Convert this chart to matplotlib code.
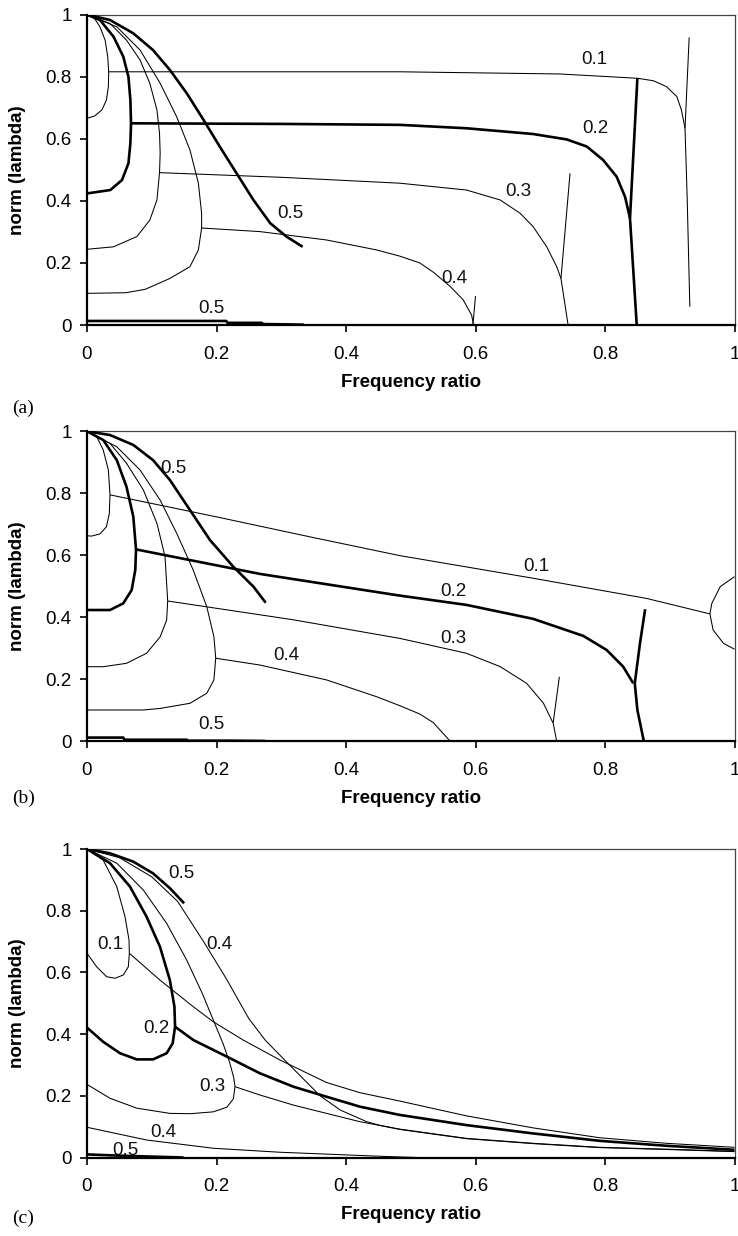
import matplotlib
matplotlib.use("Agg")
import matplotlib.pyplot as plt

plt.rcParams['font.family'] = ['Liberation Sans', 'DejaVu Sans']

# ---------------- data (x = frequency ratio, y = norm) ----------------
# panel (a)
a_01_loop = [(0, 1), (0.010, 0.993), (0.020, 0.961), (0.028, 0.918), (0.032, 0.865), (0.0335, 0.816),
             (0.033, 0.768), (0.030, 0.725), (0.023, 0.693), (0.012, 0.674), (0, 0.666)]
a_01_branch = [(0.0335, 0.816), (0.483, 0.816), (0.73, 0.809), (0.851, 0.795), (0.875, 0.787),
               (0.895, 0.768), (0.911, 0.736), (0.918, 0.693), (0.9236, 0.634)]
a_01_vert = [(0.930, 0.927), (0.9236, 0.634), (0.927, 0.403), (0.931, 0.059)]
a_02_loop = [(0, 1), (0.020, 0.983), (0.041, 0.929), (0.056, 0.865), (0.064, 0.800), (0.067, 0.725),
             (0.068, 0.650), (0.067, 0.586), (0.064, 0.521), (0.054, 0.467), (0.036, 0.435), (0, 0.424)]
a_02_branch = [(0.068, 0.650), (0.3, 0.648), (0.483, 0.645), (0.586, 0.634), (0.689, 0.6155), (0.741, 0.598),
               (0.772, 0.575), (0.797, 0.532), (0.818, 0.478), (0.831, 0.413), (0.8386, 0.344)]
a_02_vert = [(0.850, 0.795), (0.8386, 0.344), (0.849, 0.0)]
a_03_loop = [(0, 1), (0.0355, 0.972), (0.061, 0.918), (0.082, 0.854), (0.097, 0.779), (0.108, 0.693),
             (0.112, 0.618), (0.113, 0.553), (0.112, 0.491), (0.108, 0.403), (0.097, 0.338), (0.077, 0.285),
             (0.041, 0.252), (0, 0.244)]
a_03_branch = [(0.112, 0.491), (0.3, 0.476), (0.483, 0.457), (0.586, 0.435), (0.638, 0.403), (0.669, 0.360),
               (0.689, 0.317), (0.710, 0.252), (0.7254, 0.188), (0.732, 0.150)]
a_03_vert = [(0.746, 0.489), (0.732, 0.150), (0.743, 0.0)]
a_04_loop = [(0, 1), (0.046, 0.961), (0.082, 0.886), (0.113, 0.779), (0.1385, 0.671), (0.159, 0.564),
             (0.172, 0.457), (0.177, 0.360), (0.177, 0.3126), (0.172, 0.242), (0.159, 0.188), (0.128, 0.150),
             (0.09, 0.115), (0.06, 0.104), (0, 0.102)]
a_04_branch = [(0.177, 0.3126), (0.267, 0.301), (0.370, 0.274), (0.447, 0.242), (0.483, 0.222), (0.514, 0.200),
               (0.535, 0.170), (0.561, 0.124), (0.581, 0.081), (0.594, 0.032), (0.597, 0.0)]
a_04_tick = [(0.600, 0.093), (0.596, 0.0)]
a_05_curve = [(0, 1), (0.0355, 0.983), (0.0715, 0.940), (0.102, 0.886), (0.128, 0.822), (0.154, 0.747),
              (0.180, 0.661), (0.205, 0.575), (0.231, 0.489), (0.257, 0.403), (0.283, 0.328), (0.308, 0.285),
              (0.333, 0.252)]
a_05_floor = [(0, 0.013), (0.215, 0.013), (0.217, 0.007), (0.27, 0.007), (0.272, 0.003), (0.31, 0.002),
              (0.335, 0.001)]
a_labels = [("0.1", 0.783, 0.856), ("0.2", 0.785, 0.634), ("0.3", 0.666, 0.430), ("0.4", 0.568, 0.150),
            ("0.5", 0.3135, 0.360), ("0.5", 0.1925, 0.054)]

# panel (b)
b_01_loop = [(0, 1), (0.015, 0.983), (0.025, 0.940), (0.033, 0.875), (0.0355, 0.795), (0.0345, 0.735),
             (0.030, 0.692), (0.020, 0.669), (0.007, 0.662), (0, 0.663)]
b_01_branch = [(0.0355, 0.795), (0.2, 0.724), (0.35, 0.657), (0.483, 0.599), (0.689, 0.526), (0.864, 0.461),
               (0.962, 0.411)]
b_01_ellipse = [(1.0, 0.531), (0.978, 0.499), (0.965, 0.445), (0.962, 0.411), (0.967, 0.359), (0.983, 0.316),
                (1.0, 0.297)]
b_02_loop = [(0, 1), (0.025, 0.972), (0.046, 0.907), (0.061, 0.821), (0.0715, 0.725), (0.0757, 0.619),
             (0.0746, 0.553), (0.069, 0.488), (0.056, 0.445), (0.0355, 0.4235), (0, 0.4235)]
b_02_branch = [(0.0757, 0.619), (0.267, 0.540), (0.483, 0.470), (0.586, 0.440), (0.689, 0.395), (0.7665, 0.340),
               (0.8026, 0.2945), (0.828, 0.241), (0.8437, 0.187)]
b_02_vert = [(0.862, 0.426), (0.854, 0.316), (0.846, 0.187), (0.850, 0.101), (0.860, 0.0)]
b_03_loop = [(0, 1), (0.0355, 0.961), (0.061, 0.897), (0.087, 0.811), (0.108, 0.703), (0.1205, 0.596),
             (0.1246, 0.4526), (0.123, 0.391), (0.113, 0.337), (0.092, 0.284), (0.061, 0.2516), (0.025, 0.2406),
             (0, 0.2406)]
b_03_branch = [(0.1246, 0.4526), (0.3186, 0.392), (0.483, 0.332), (0.586, 0.284), (0.638, 0.241), (0.679, 0.187),
               (0.705, 0.1226), (0.720, 0.058), (0.7254, 0.0)]
b_03_vert = [(0.7295, 0.208), (0.720, 0.06)]
b_04_loop = [(0, 1), (0.046, 0.950), (0.082, 0.875), (0.113, 0.778), (0.1385, 0.671), (0.164, 0.5526),
             (0.185, 0.434), (0.196, 0.337), (0.1988, 0.268), (0.196, 0.198), (0.185, 0.155), (0.159, 0.1226),
             (0.113, 0.106), (0.087, 0.101), (0, 0.101)]
b_04_branch = [(0.1988, 0.268), (0.267, 0.246), (0.370, 0.198), (0.447, 0.144), (0.483, 0.115), (0.514, 0.088),
               (0.535, 0.06), (0.561, 0.0)]
b_05_curve = [(0, 1), (0.0355, 0.988), (0.0715, 0.956), (0.102, 0.907), (0.128, 0.843), (0.159, 0.746),
              (0.190, 0.649), (0.226, 0.563), (0.257, 0.499), (0.276, 0.447)]
b_05_floor = [(0, 0.012), (0.056, 0.012), (0.058, 0.005), (0.154, 0.005), (0.156, 0.002), (0.2235, 0.002),
              (0.275, 0.001)]
b_labels = [("0.5", 0.134, 0.8806), ("0.4", 0.308, 0.278), ("0.5", 0.1925, 0.0526), ("0.1", 0.6945, 0.563),
            ("0.2", 0.566, 0.483), ("0.3", 0.566, 0.332)]

# panel (c)
c_01_loop = [(0, 1), (0.025, 0.964), (0.046, 0.878), (0.0587, 0.7806), (0.0649, 0.705), (0.0654, 0.662),
             (0.0638, 0.618), (0.056, 0.5916), (0.0433, 0.581), (0.0304, 0.586), (0.015, 0.618), (0, 0.662)]
c_01_branch = [(0.0654, 0.662), (0.1127, 0.575), (0.164, 0.489), (0.195, 0.440), (0.241, 0.381), (0.298, 0.316),
               (0.370, 0.243), (0.4216, 0.210), (0.483, 0.183), (0.586, 0.135), (0.689, 0.096), (0.792, 0.064),
               (0.895, 0.046), (1.0, 0.033)]
c_02_loop = [(0, 1), (0.0355, 0.954), (0.0664, 0.878), (0.092, 0.7806), (0.1127, 0.683), (0.128, 0.575),
             (0.135, 0.489), (0.136, 0.424), (0.1323, 0.370), (0.123, 0.338), (0.102, 0.318), (0.0767, 0.318),
             (0.051, 0.338), (0.025, 0.375), (0, 0.421)]
c_02_branch = [(0.136, 0.424), (0.164, 0.381), (0.216, 0.327), (0.267, 0.273), (0.3186, 0.2296), (0.370, 0.197),
               (0.4216, 0.1647), (0.483, 0.138), (0.586, 0.105), (0.689, 0.078), (0.792, 0.054), (0.895, 0.038),
               (1.0, 0.025)]
c_03_loop = [(0, 1), (0.046, 0.954), (0.087, 0.867), (0.123, 0.759), (0.154, 0.640), (0.178, 0.532),
             (0.195, 0.4457), (0.210, 0.370), (0.220, 0.310), (0.2265, 0.260), (0.2286, 0.2296), (0.226, 0.190),
             (0.216, 0.163), (0.195, 0.148), (0.160, 0.142), (0.128, 0.143), (0.0767, 0.160), (0.0355, 0.192),
             (0, 0.237)]
c_03_branch = [(0.2286, 0.2296), (0.267, 0.2026), (0.3186, 0.170), (0.370, 0.143), (0.4216, 0.116),
               (0.483, 0.092), (0.586, 0.062), (0.689, 0.046), (0.792, 0.033), (0.895, 0.027), (1.0, 0.020)]
c_04_top = [(0, 1), (0.05, 0.972), (0.10, 0.91), (0.14, 0.83), (0.18, 0.70), (0.215, 0.58), (0.250, 0.45),
            (0.275, 0.381), (0.308, 0.310), (0.360, 0.200), (0.391, 0.154), (0.432, 0.116), (0.4525, 0.104),
            (0.483, 0.091), (0.586, 0.061), (0.689, 0.045), (0.792, 0.032), (0.895, 0.026), (1.0, 0.019)]
c_04_bottom = [(0, 0.098), (0.092, 0.0567), (0.195, 0.030), (0.298, 0.017), (0.4525, 0.004), (0.51, 0.0)]
c_05_curve = [(0, 1), (0.0355, 0.986), (0.0715, 0.959), (0.102, 0.921), (0.128, 0.873), (0.150, 0.824)]
c_05_floor = [(0, 0.010), (0.05, 0.006), (0.149, 0.0)]
c_labels = [("0.5", 0.146, 0.921), ("0.1", 0.0366, 0.689), ("0.4", 0.204, 0.689), ("0.2", 0.1066, 0.419),
            ("0.3", 0.194, 0.2296), ("0.4", 0.118, 0.080), ("0.5", 0.0587, 0.022)]

ticks = [0, 0.2, 0.4, 0.6, 0.8, 1]
tick_text = ['0', '0.2', '0.4', '0.6', '0.8', '1']

THIN = 0.75
THICK = 1.9

panels = [
    ("(a)", [14.7, 325.0], 408,
     [(a_01_loop, THIN), (a_01_branch, THIN), (a_01_vert, THIN), (a_02_loop, THICK), (a_02_branch, THICK),
      (a_02_vert, THICK), (a_03_loop, THIN), (a_03_branch, THIN), (a_03_vert, THIN), (a_04_loop, THIN),
      (a_04_branch, THIN), (a_04_tick, THIN), (a_05_curve, THICK), (a_05_floor, THICK)], a_labels),
    ("(b)", [431.3, 741.3], 798,
     [(b_01_loop, THIN), (b_01_branch, THIN), (b_01_ellipse, THIN), (b_02_loop, THICK), (b_02_branch, THICK),
      (b_02_vert, THICK), (b_03_loop, THIN), (b_03_branch, THIN), (b_03_vert, THIN), (b_04_loop, THIN),
      (b_04_branch, THIN), (b_05_curve, THICK), (b_05_floor, THICK)], b_labels),
    ("(c)", [849.0, 1157.5], 1218,
     [(c_01_loop, THIN), (c_01_branch, THIN), (c_02_loop, THICK), (c_02_branch, THICK), (c_03_loop, THIN),
      (c_03_branch, THIN), (c_04_top, THIN), (c_04_bottom, THIN), (c_05_curve, THICK), (c_05_floor, THICK)],
     c_labels),
]

W, H = 738, 1236
fig = plt.figure(figsize=(W / 100, H / 100), dpi=100)

left_px, right_px = 87.0, 734.5
for tag, (top_px, bot_px), tag_y, lines, labels in panels:
    ax = fig.add_axes([left_px / W, 1 - bot_px / H, (right_px - left_px) / W, (bot_px - top_px) / H])
    for pts, lw in lines:
        ax.plot([p[0] for p in pts], [p[1] for p in pts], color='black', lw=lw,
                solid_joinstyle='round', solid_capstyle='butt', zorder=3)
    for txt, x, y in labels:
        ax.text(x, y, txt, fontsize=13.5, ha='center', va='center', color='#111111', zorder=2)

    ax.set_xlim(0, 1)
    ax.set_ylim(0, 1)
    ax.set_xticks(ticks)
    ax.set_xticklabels(tick_text)
    ax.set_yticks(ticks)
    ax.set_yticklabels(tick_text)
    for s in ['left', 'bottom']:
        ax.spines[s].set_linewidth(1.6)
        ax.spines[s].set_color('black')
    for s in ['top', 'right']:
        ax.spines[s].set_linewidth(0.9)
        ax.spines[s].set_color('#444444')
    ax.tick_params(axis='x', direction='out', length=5, width=1.2, labelsize=13.5, pad=10)
    ax.tick_params(axis='y', direction='out', length=5, width=1.2, labelsize=13.5, pad=6)
    ax.set_xlabel('Frequency ratio', fontsize=13.5, fontweight='bold', labelpad=8)

    mid = (top_px + bot_px) / 2
    fig.text(18 / W, 1 - mid / H, 'norm (lambda)', rotation=90, fontsize=13.5, fontweight='bold',
             ha='center', va='center')
    fig.text(12 / W, 1 - tag_y / H, tag, fontsize=14, family=['Liberation Serif', 'DejaVu Serif'],
             ha='left', va='center')

fig.savefig('out.png', dpi=100)
